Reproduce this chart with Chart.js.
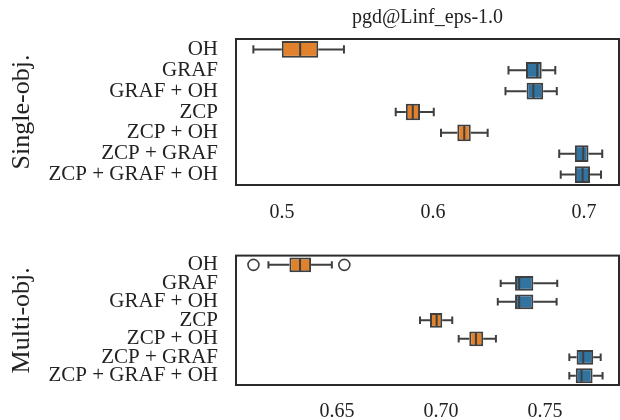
<!DOCTYPE html>
<html>
<head>
<meta charset="utf-8">
<script src="https://cdn.jsdelivr.net/npm/chart.js@4"></script>
<style>
  body { margin: 0; background: #fff; }
  #wrap { position: relative; width: 620px; height: 420px; }
  .panel { position: absolute; left: 0; width: 620px; }
</style>
</head>
<body>
<div id="wrap">
  <div class="panel" style="top:0;height:225px"><canvas id="topChart"></canvas></div>
  <div class="panel" style="top:225px;height:195px"><canvas id="bottomChart"></canvas></div>
</div>
<script>
const categories = ['OH', 'GRAF', 'GRAF + OH', 'ZCP', 'ZCP + OH', 'ZCP + GRAF', 'ZCP + GRAF + OH'];
const colorGroup = ['orange', 'blue', 'blue', 'orange', 'orange', 'blue', 'blue'];

// single objective
const singleLow    = [0.481, 0.650, 0.648, 0.5753, 0.6053, 0.6836, 0.6846];
const singleQ1     = [0.4998, 0.6616, 0.662, 0.582, 0.6161, 0.694, 0.694];
const singleMedian = [0.512, 0.669, 0.6665, 0.5866, 0.6207, 0.6995, 0.6991];
const singleQ3     = [0.524, 0.672, 0.673, 0.5914, 0.625, 0.703, 0.704];
const singleHigh   = [0.541, 0.681, 0.682, 0.6005, 0.6362, 0.7121, 0.7113];
const singleTicks  = [0.5, 0.6, 0.7];
const singleTickLabels = ['0.5', '0.6', '0.7'];

// multi objective
const multiLow    = [0.617, 0.7287, 0.7273, 0.6899, 0.7085, 0.7617, 0.7617];
const multiQ1     = [0.6271, 0.7356, 0.7356, 0.6947, 0.7136, 0.7652, 0.7648];
const multiMedian = [0.6322, 0.7376, 0.7376, 0.6979, 0.7168, 0.7684, 0.7676];
const multiQ3     = [0.6375, 0.7444, 0.7444, 0.7006, 0.7203, 0.7732, 0.7729];
const multiHigh   = [0.6475, 0.7559, 0.7556, 0.7054, 0.7264, 0.7768, 0.7777];
const multiOutliers = [0.6098, 0.6535];
const multiOutlierRows = [0, 0];
const multiTicks  = [0.65, 0.70, 0.75];
const multiTickLabels = ['0.65', '0.70', '0.75'];

const palette = { orange: '#e1812c', blue: '#3274a1' };
const edge = '#3f3f3f';
const serif = "'Liberation Serif', 'Times New Roman', serif";
const textColor = '#222';

const boxExtras = {
  id: 'boxExtras',
  afterDatasetsDraw(chart, args, opts) {
    const ctx = chart.ctx;
    const xs = chart.scales.x, ys = chart.scales.y;
    const meta = chart.getDatasetMeta(0);
    ctx.save();
    ctx.strokeStyle = edge;
    ctx.lineWidth = 2;
    ctx.lineCap = 'butt';
    categories.forEach((c, i) => {
      const yc = ys.getPixelForValue(i);
      const h = meta.data[i].height;
      const lo = xs.getPixelForValue(opts.low[i]);
      const q1 = xs.getPixelForValue(opts.q1[i]);
      const q3 = xs.getPixelForValue(opts.q3[i]);
      const hi = xs.getPixelForValue(opts.high[i]);
      const md = xs.getPixelForValue(opts.median[i]);
      ctx.beginPath();
      ctx.moveTo(lo, yc); ctx.lineTo(q1, yc);
      ctx.moveTo(q3, yc); ctx.lineTo(hi, yc);
      ctx.moveTo(lo, yc - h / 4); ctx.lineTo(lo, yc + h / 4);
      ctx.moveTo(hi, yc - h / 4); ctx.lineTo(hi, yc + h / 4);
      ctx.moveTo(md, yc - h / 2 + 1); ctx.lineTo(md, yc + h / 2 - 1);
      ctx.stroke();
    });
    (opts.outliers || []).forEach((v, k) => {
      const px = xs.getPixelForValue(v);
      const py = ys.getPixelForValue(opts.outlierRows[k]);
      ctx.beginPath();
      ctx.arc(px, py, 5.5, 0, Math.PI * 2);
      ctx.fillStyle = '#fff';
      ctx.fill();
      ctx.lineWidth = 1.6;
      ctx.stroke();
    });
    // frame
    const a = chart.chartArea;
    ctx.lineWidth = 2;
    ctx.strokeStyle = '#2a2a2a';
    ctx.strokeRect(a.left, a.top, a.right - a.left, a.bottom - a.top);
    ctx.restore();
  }
};

function makeChart(id, cfg) {
  const ctx = document.getElementById(id).getContext('2d');
  return new Chart(ctx, {
    type: 'bar',
    data: {
      labels: categories,
      datasets: [{
        data: categories.map((c, i) => [cfg.q1[i], cfg.q3[i]]),
        backgroundColor: colorGroup.map(g => palette[g]),
        borderColor: edge,
        borderWidth: 2,
        borderSkipped: false,
        barPercentage: 0.8,
        categoryPercentage: 1.0
      }]
    },
    options: {
      indexAxis: 'y',
      responsive: true,
      maintainAspectRatio: false,
      animation: false,
      layout: { padding: { top: cfg.padTop, right: 1, left: 0, bottom: 0 } },
      plugins: {
        legend: { display: false },
        tooltip: { enabled: false },
        title: {
          display: !!cfg.title,
          text: cfg.title || '',
          fullSize: false,
          color: textColor,
          font: { family: serif, size: 20, weight: 'normal' },
          padding: { top: 6, bottom: 9 }
        },
        boxExtras: cfg
      },
      scales: {
        x: {
          type: 'linear',
          min: cfg.min,
          max: cfg.max,
          grid: { display: false, drawTicks: false },
          border: { display: false },
          afterBuildTicks: s => { s.ticks = cfg.ticks.map(v => ({ value: v })); },
          afterFit: s => { s.height = cfg.xHeight; },
          ticks: {
            padding: cfg.tickPad,
            color: textColor,
            font: { family: serif, size: 20 },
            maxRotation: 0,
            callback: (v, i) => cfg.tickLabels[i]
          }
        },
        y: {
          type: 'category',
          offset: true,
          grid: { display: false, drawTicks: false },
          border: { display: false },
          afterFit: s => { s.width = 236; },
          ticks: {
            padding: 18,
            color: textColor,
            autoSkip: false,
            font: { family: serif, size: 21 }
          },
          title: {
            display: true,
            text: cfg.yTitle,
            color: textColor,
            font: { family: serif, size: 26 },
            padding: { top: 7, bottom: 0 }
          }
        }
      }
    },
    plugins: [boxExtras]
  });
}

makeChart('topChart', {
  title: 'pgd@Linf_eps-1.0',
  yTitle: 'Single-obj.',
  padTop: 0,
  xHeight: 40,
  tickPad: 16,
  min: 0.4695, max: 0.7232,
  ticks: singleTicks, tickLabels: singleTickLabels,
  low: singleLow, q1: singleQ1, median: singleMedian, q3: singleQ3, high: singleHigh,
  outliers: [], outlierRows: []
});

makeChart('bottomChart', {
  title: '',
  yTitle: 'Multi-obj.',
  padTop: 14,
  xHeight: 35,
  tickPad: 15,
  min: 0.6014, max: 0.7856,
  ticks: multiTicks, tickLabels: multiTickLabels,
  low: multiLow, q1: multiQ1, median: multiMedian, q3: multiQ3, high: multiHigh,
  outliers: multiOutliers, outlierRows: multiOutlierRows
});
</script>
</body>
</html>
